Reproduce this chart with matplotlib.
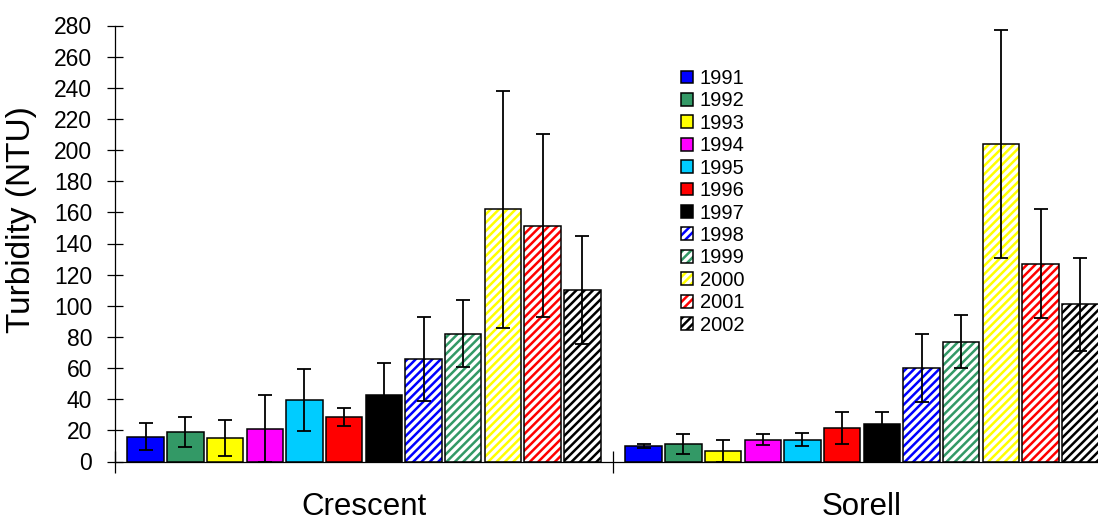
import matplotlib
matplotlib.use('Agg')
import matplotlib.pyplot as plt
import numpy as np

plt.rcParams['font.family'] = ['Liberation Sans', 'DejaVu Sans']
plt.rcParams['hatch.linewidth'] = 1.8

sites = ['Crescent', 'Sorell']
years = ['1991', '1992', '1993', '1994', '1995', '1996', '1997',
         '1998', '1999', '2000', '2001', '2002']
crescent_mean = [16, 19, 15, 21, 39.5, 28.5, 43, 66, 82, 162, 151.5, 110]
crescent_err = [8.5, 9.5, 11.5, 21.5, 20, 6, 20, 27, 21.5, 76, 59, 34.5]
sorell_mean = [10, 11, 7, 14, 14, 21.5, 24, 60, 77, 204, 127, 101]
sorell_err = [1.5, 6.5, 7, 3.7, 4, 10, 7.5, 22, 17, 73, 35, 30]

colors = ['#0000FF', '#339966', '#FFFF00', '#FF00FF', '#00CCFF', '#FF0000',
          '#000000', '#0000FF', '#339966', '#FFFF00', '#FF0000', '#000000']
hatched = [False] * 7 + [True] * 5

means = np.array([crescent_mean, sorell_mean])
errs = np.array([crescent_err, sorell_err])

fig = plt.figure(figsize=(10.98, 5.24), dpi=100)
ax = fig.add_axes([115 / 1098, 62.5 / 524, 1 - 115 / 1098, 436 / 524])

x = np.arange(len(sites))
pitch = 0.0797
width = 0.0733
handles = []
for j, yr in enumerate(years):
    pos = x + (j - 5.5) * pitch
    vals = means[:, j]
    if hatched[j]:
        b1 = ax.bar(pos, vals, width, color='white', edgecolor=colors[j],
                    hatch='////', linewidth=0, zorder=2)
        b2 = ax.bar(pos, vals, width, fill=False, edgecolor='black',
                    linewidth=1.1, zorder=3)
        handles.append((b1.patches[0], b2.patches[0]))
    else:
        b = ax.bar(pos, vals, width, color=colors[j], edgecolor='black',
                   linewidth=1.1, zorder=3)
        handles.append(b.patches[0])
    ax.errorbar(pos, vals, yerr=errs[:, j], fmt='none', ecolor='black',
                elinewidth=1.3, capsize=4.7, capthick=1.3, zorder=4)

ax.set_yticks(range(0, 281, 20))
ax.set_xticks([-0.5, 0.5, 1.5])
ax.set_xticklabels([])
ax.set_xticks(x, minor=True)
ax.set_xticklabels(sites, minor=True, fontsize=22.5)
ax.set_xlim(-0.5, -0.5 + 983 / 498)
ax.set_ylim(0, 280)
ax.tick_params(axis='x', which='major', direction='inout', length=16, width=0.9)
ax.tick_params(axis='x', which='minor', length=0, pad=22)
ax.tick_params(axis='y', direction='inout', length=11, width=0.9, labelsize=16.5, pad=11)

for s in ['top', 'right']:
    ax.spines[s].set_visible(False)
for s in ['left', 'bottom']:
    ax.spines[s].set_linewidth(0.9)

ax.set_ylabel('Turbidity (NTU)', fontsize=24)
ax.yaxis.set_label_coords(-0.079, 0.556)

ax.legend(handles, years, loc='upper left',
          bbox_to_anchor=(681 / 1098, 1 - 69 / 524), bbox_transform=fig.transFigure,
          frameon=False, fontsize=14.5, handlelength=0.6, handleheight=0.6,
          handletextpad=0.33, labelspacing=0.17, borderpad=0, borderaxespad=0)

fig.savefig('out.png', dpi=100)
